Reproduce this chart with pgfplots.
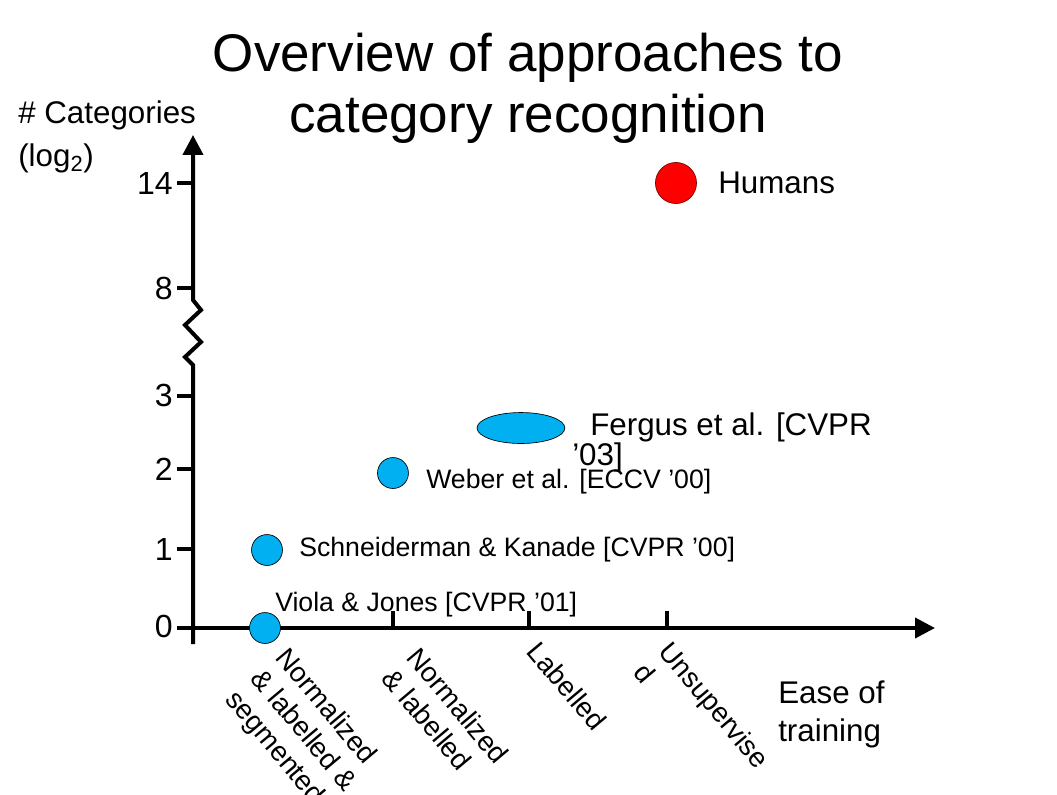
\documentclass[border=0pt]{standalone}
\usepackage{pgfplots}
\pgfplotsset{compat=1.18}
\usepackage{fontspec}
\setmainfont{Liberation Sans}
\usetikzlibrary{arrows.meta}
\definecolor{cblue}{RGB}{0,176,240}
\definecolor{cred}{RGB}{255,0,0}
\definecolor{cdred}{RGB}{120,0,0}
\begin{document}
\begin{tikzpicture}
% pixel-based layout frame: (px,py) -> image pixel position
\begin{scope}[x=0.75pt,y=-0.75pt,shift={(-131,-628)}]
\useasboundingbox (0,0) rectangle (1057,794);
% axes
\draw[line width=3pt,-{Triangle[width=15pt,length=15pt]}] (182,628) -- (935,628);
\draw[line width=3pt,-{Triangle[width=15pt,length=15pt]},line join=miter]
  (193,644) -- (193,365) -- (185,357) -- (201,342) -- (185,325) -- (201,310) -- (193,300) -- (193,135);
% ticks
\foreach \yy in {183,288,396,469,549,628} \draw[line width=2.4pt] (177,\yy) -- (193,\yy);
\foreach \xx in {393,529,667} \draw[line width=2.4pt] (\xx,628) -- (\xx,611);
% tick labels
\begin{scope}[every node/.style={inner sep=0pt,font=\fontsize{24pt}{28pt}\selectfont}]
\node[anchor=east] at (173,183) {14};
\node[anchor=east] at (173,288) {8};
\node[anchor=east] at (173,395) {3};
\node[anchor=east] at (173,469) {2};
\node[anchor=east] at (173,549) {1};
\node[anchor=east] at (173,626) {0};
\end{scope}
\begin{scope}[every node/.style={inner sep=0pt,anchor=north west,rotate=-50,align=left,font=\fontsize{20.8pt}{24.5pt}\selectfont}]
\node at (290,645) {Normalized\\\& labelled \&\\segmented};
\node at (421,645) {Normalized\\\& labelled};
\node at (541,639) {Labelled};
\node at (673,639) {Unsupervise\\d};
\end{scope}
% titles and labels
\node[anchor=base,inner sep=0pt,font=\fontsize{39.75pt}{46pt}\selectfont] at (528,72) {Overview of approaches to};
\node[anchor=base,inner sep=0pt,font=\fontsize{39.75pt}{46pt}\selectfont] at (528,133) {category recognition};
\begin{scope}[every node/.style={inner sep=0pt,anchor=base west,font=\fontsize{23.5pt}{28pt}\selectfont}]
\node at (18,124) {\# Categories};
\node at (18,167) {(log\textsubscript{2})};
\node at (778,703) {Ease of};
\node at (778,741) {training};
\node[anchor=west] at (718,183) {Humans};
\node at (590,435) {Fergus et al. [CVPR};
\node at (572,465) {’03]};
\end{scope}
\begin{scope}[every node/.style={inner sep=0pt,anchor=base west,font=\fontsize{20pt}{24pt}\selectfont}]
\node at (426,488) {Weber et al. [ECCV ’00]};
\node at (299,556) {Schneiderman \& Kanade [CVPR ’00]};
\node at (275,611) {Viola \& Jones [CVPR ’01]};
\end{scope}
\end{scope}
\begin{axis}[
  x=100.5pt, y=0.75pt,
  xmin=0, xmax=6, ymin=0, ymax=16,
  y coord trafo/.code={\pgfmathparse{78*(#1)-((#1)>3)*56.8*((#1)-3)-((#1)>8)*3.7*((#1)-8)}},
  axis lines=none, ticks=none, clip=false,
]
% Viola & Jones, Schneiderman & Kanade, Weber et al.
\addplot[only marks, mark=*, mark size=11.6pt,
  mark options={fill=cblue, draw=black, line width=0.5pt}]
  coordinates {(1,0) (1.015,1) (1.955,1.987)};
% Fergus et al.
\addplot[only marks, mark=*, mark size=11.6pt,
  mark options={fill=cblue, draw=black, line width=0.5pt, xscale=2.84}]
  coordinates {(2.91,2.564)};
% Humans
\addplot[only marks, mark=*, mark size=15.4pt,
  mark options={fill=cred, draw=cdred, line width=0.5pt}]
  coordinates {(4.067,14)};
\end{axis}
\end{tikzpicture}
\end{document}
